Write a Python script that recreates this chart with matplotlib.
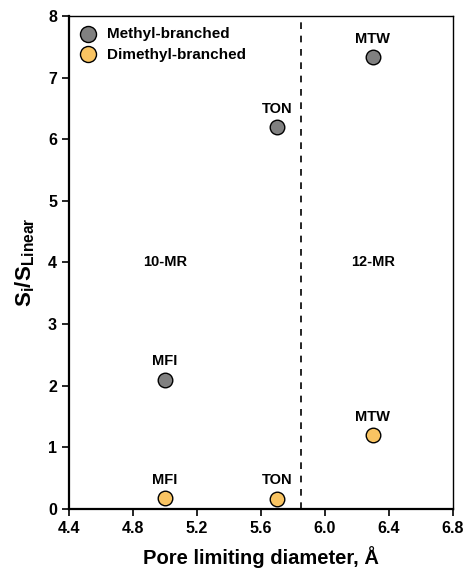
import matplotlib
matplotlib.use("Agg")
import matplotlib.pyplot as plt

plt.rcParams['font.family'] = ['Liberation Sans', 'DejaVu Sans']
plt.rcParams['font.weight'] = 'bold'
plt.rcParams['mathtext.fontset'] = 'custom'
plt.rcParams['mathtext.bf'] = 'Liberation Sans:bold'
plt.rcParams['mathtext.rm'] = 'Liberation Sans:bold'

# data
frameworks = ['MFI', 'TON', 'MTW']
pore_diam = [5.0, 5.7, 6.3]
methyl = [2.1, 6.2, 7.33]
dimethyl = [0.18, 0.17, 1.2]
divider_x = 5.85
regions = ['10-MR', '12-MR']
region_x = [5.0, 6.3]
region_y = 4
xticks = [4.4, 4.8, 5.2, 5.6, 6.0, 6.4, 6.8]

fig = plt.figure(figsize=(4.65, 5.69), dpi=100)
ax = fig.add_axes([0.148, 0.1054, 0.826, 0.8666])

ax.scatter(pore_diam, methyl, s=110, c='#808080', edgecolors='black',
           linewidths=1.0, zorder=3, label='Methyl-branched')
ax.scatter(pore_diam, dimethyl, s=110, c='#F9C462', edgecolors='black',
           linewidths=1.0, zorder=3, label='Dimethyl-branched')

for name, x, y in zip(frameworks, pore_diam, methyl):
    ax.annotate(name, (x, y), xytext=(0, 8), textcoords='offset points',
                ha='center', va='bottom', fontsize=10.5, fontweight='bold')
for name, x, y in zip(frameworks, pore_diam, dimethyl):
    ax.annotate(name, (x, y), xytext=(0, 8), textcoords='offset points',
                ha='center', va='bottom', fontsize=10.5, fontweight='bold')

for name, x in zip(regions, region_x):
    ax.text(x, region_y, name, ha='center', va='center', fontsize=10.5,
            fontweight='bold')

ax.axvline(divider_x, color='black', linestyle=(0, (4, 4)), linewidth=1.2)

ax.set_xlim(4.4, 6.8)
ax.set_ylim(0, 8)
ax.set_xticks(xticks)
ax.set_xticklabels(['%.1f' % t for t in xticks])
ax.set_yticks(range(0, 9))
ax.tick_params(direction='out', length=5, width=1.2, labelsize=11.5)

ax.spines['left'].set_linewidth(1.6)
ax.spines['bottom'].set_linewidth(1.6)
ax.spines['top'].set_linewidth(1.0)
ax.spines['right'].set_linewidth(1.0)

ax.set_xlabel('Pore limiting diameter, Å', fontsize=14.5, fontweight='bold',
              labelpad=7.5)
ax.set_ylabel(r'$\mathbf{S_i/S_{Linear}}$', fontsize=16, labelpad=8)

ax.legend(loc='upper left', bbox_to_anchor=(-0.018, 1.0), frameon=False,
          fontsize=11, handletextpad=0.25, borderaxespad=0.3,
          labelspacing=0.45, borderpad=0.4, markerscale=1.1)

fig.savefig('out.png', dpi=100)
